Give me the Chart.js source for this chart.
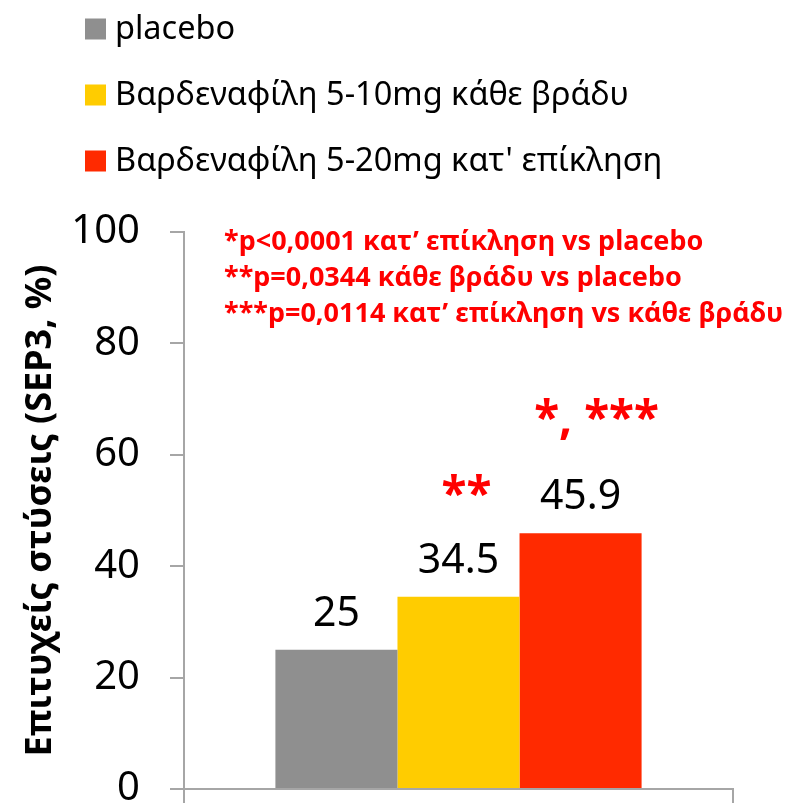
<!DOCTYPE html>
<html>
<head>
<meta charset="utf-8">
<script src="https://cdn.jsdelivr.net/npm/chart.js@4/dist/chart.umd.min.js"></script>
<style>
  body { margin: 0; background: #fff; }
  canvas { display: block; }
</style>
</head>
<body>
<canvas id="myChart" width="794" height="807"></canvas>
<script>
// data
const categories = [""];
const seriesNames = ["placebo", "Βαρδεναφίλη 5-10mg κάθε βράδυ", "Βαρδεναφίλη 5-20mg κατ' επίκληση"];
const seriesValues = [25, 34.5, 45.9];
const valueLabels = ["25", "34.5", "45.9"];
const sigLabels = ["", "**", "*, ***"];
const notes = [
  "*p<0,0001 κατ’ επίκληση vs placebo",
  "**p=0,0344 κάθε βράδυ vs placebo",
  "***p=0,0114 κατ’ επίκληση vs κάθε βράδυ"
];
const yTicks = [0, 20, 40, 60, 80, 100];
const yTitle = "Επιτυχείς στύσεις (SEP3, %)";

const colors = ["#8f8f8f", "#ffcc00", "#ff2a00"];
const axisColor = "#a6a6a6";
const fontName = "'Noto Sans', sans-serif";

let datasets = [];
for (let i = 0; i < seriesNames.length; i++) {
  datasets.push({
    label: seriesNames[i],
    data: [seriesValues[i]],
    backgroundColor: colors[i],
    borderWidth: 0,
    categoryPercentage: 0.667,
    barPercentage: 1.0
  });
}

// legend, value labels and the red notes
const extras = {
  id: "extras",
  afterDatasetsDraw(chart) {
    const ctx = chart.ctx;
    ctx.save();
    chart.data.datasets.forEach((ds, i) => {
      const bar = chart.getDatasetMeta(i).data[0];
      ctx.fillStyle = "#000";
      ctx.font = "41px " + fontName;
      ctx.textAlign = "center";
      ctx.textBaseline = "alphabetic";
      ctx.fillText(valueLabels[i], bar.x, bar.y - 24);
      if (sigLabels[i]) {
        ctx.fillStyle = "#ff0000";
        ctx.font = "bold 46px " + fontName;
        let shift = i == 1 ? 8 : 16;
        let up = i == 1 ? 87 : 99;
        ctx.fillText(sigLabels[i], bar.x + shift, bar.y - up);
      }
    });

    // legend
    ctx.textAlign = "left";
    ctx.textBaseline = "middle";
    ctx.font = "32.5px " + fontName;
    const rows = [29, 95, 161];
    chart.data.datasets.forEach((ds, i) => {
      ctx.fillStyle = ds.backgroundColor;
      ctx.fillRect(85, rows[i] - 10.5, 21, 21);
      ctx.fillStyle = "#000";
      ctx.fillText(ds.label, 115, rows[i] + 1);
    });

    // notes
    ctx.fillStyle = "#ff0000";
    ctx.font = "bold 27px " + fontName;
    const left = chart.chartArea.left + 40;
    notes.forEach((t, k) => {
      ctx.fillText(t, left, 242 + k * 36);
    });
    ctx.restore();
  }
};

const config = {
  type: "bar",
  data: { labels: categories, datasets: datasets },
  options: {
    responsive: false,
    animation: false,
    devicePixelRatio: 1,
    layout: { padding: { top: 232, right: 61, bottom: 4, left: 0 } },
    plugins: {
      legend: { display: false },
      tooltip: { enabled: false }
    },
    scales: {
      x: {
        grid: { drawOnChartArea: false, drawTicks: true, tickLength: 14, color: axisColor, lineWidth: 2 },
        border: { display: true, color: axisColor, width: 2 },
        ticks: { display: false }
      },
      y: {
        min: 0,
        max: 100,
        afterBuildTicks: (scale) => { scale.ticks = yTicks.map(v => ({ value: v })); },
        afterFit: (scale) => {
          scale.width = 184;
          scale.paddingTop = 0;
          scale.paddingBottom = 0;
        },
        grid: { drawOnChartArea: false, drawTicks: true, tickLength: 14, color: axisColor, lineWidth: 2 },
        border: { display: true, color: axisColor, width: 2 },
        ticks: {
          color: "#000",
          padding: 30,
          font: { family: fontName, size: 40 }
        },
        title: {
          display: true,
          text: yTitle,
          color: "#000",
          padding: { top: 19, bottom: 0 },
          font: { family: fontName, size: 36, weight: "bold" }
        }
      }
    }
  },
  plugins: [extras]
};

const myChart = new Chart(document.getElementById("myChart").getContext("2d"), config);
</script>
</body>
</html>
